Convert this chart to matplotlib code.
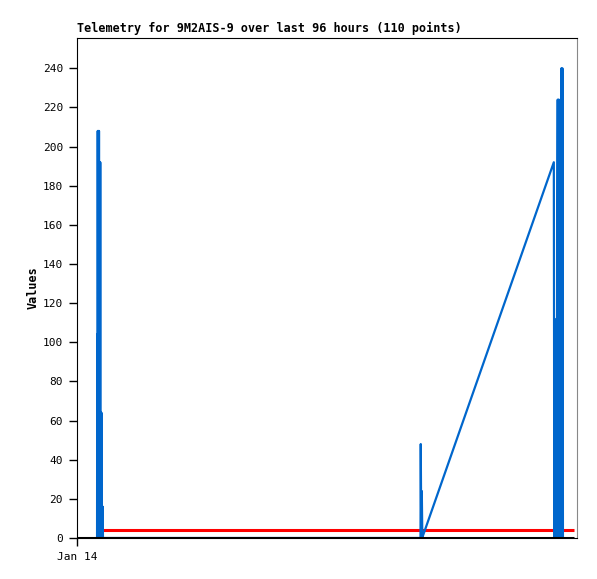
import matplotlib
matplotlib.use('Agg')
import matplotlib.pyplot as plt

# Telemetry samples: hours since Jan 14 00:00 and reading
hours = [3.85, 3.88, 3.93, 3.98, 4.04, 4.10, 4.16, 4.22, 4.28, 4.34, 4.40, 4.46,
         4.52, 4.58, 4.64, 4.70, 4.76, 4.82, 4.88, 4.94, 4.98,
         65.95, 66.00, 66.10, 66.20, 66.30, 66.40,
         91.55, 91.60, 91.62, 91.72, 91.80, 91.88, 91.96, 92.04, 92.12, 92.20,
         92.30, 92.40, 92.50, 92.60, 92.70, 92.80, 92.90, 93.00, 93.10, 93.20, 93.30]
values = [0, 104, 0, 208, 0, 208, 0, 208, 0, 192, 0, 192, 0, 64, 0, 64, 0, 16, 0, 16, 0,
          0, 48, 0, 24, 0, 1,
          192, 97, 0, 80, 0, 80, 0, 112, 0, 145, 224, 0, 224, 0, 97, 0, 97, 240, 0, 240, 0]

limit_hours = [5.0, 95.5]
limit_values = [4, 4]

base_hours = [0, 95.5]
base_values = [0, 0]

fig = plt.figure(figsize=(5.97, 5.79), dpi=100)
ax = fig.add_axes([0.129, 0.0708, 0.8375, 0.8636])

ax.plot(hours, values, color='#0066cc', linewidth=1.6, zorder=3)
ax.plot(limit_hours, limit_values, color='#ff0000', linewidth=2.2, solid_capstyle='butt', zorder=2)
ax.plot(base_hours, base_values, color='black', linewidth=2.2, solid_capstyle='butt', zorder=5)

ax.set_xlim(0, 96)
ax.set_ylim(0, 255.5)
ax.set_yticks(range(0, 241, 20))
ax.set_xticks([0])
ax.set_xticklabels(['Jan 14'])

mono = 'DejaVu Sans Mono'
for lab in ax.get_yticklabels() + ax.get_xticklabels():
    lab.set_fontfamily(mono)
    lab.set_fontsize(8)
ax.tick_params(direction='out', length=6, width=1, pad=4)

ax.set_title('Telemetry for 9M2AIS-9 over last 96 hours (110 points)',
             loc='left', fontfamily=mono, fontsize=8.5, fontweight='bold', pad=4)
ax.set_ylabel('Values', fontfamily=mono, fontsize=8.5, fontweight='bold', labelpad=2)

ax.spines['left'].set_color('black')
ax.spines['top'].set_color('black')
ax.spines['bottom'].set_color('black')
ax.spines['right'].set_color('#888888')

fig.savefig('out.png', dpi=100)
